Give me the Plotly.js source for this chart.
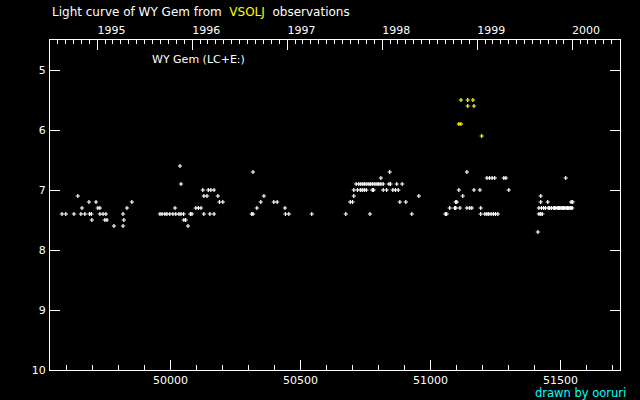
<!DOCTYPE html>
<html><head><meta charset="utf-8">
<script src="https://cdn.plot.ly/plotly-3.0.1.min.js"></script>
<style>html,body{margin:0;padding:0;background:#000;}#chart{width:640px;height:400px;}</style>
</head><body><div id="chart"></div>
<script>
// JD - 2400000 and visual magnitude
const whiteJD = [
 49582,49597,49628,49655,49670,49688,49695,49728,49740,49751,49817,
 49659,49720,49728,49832, 49686,49713,49851, 49643,
 49697,49747,49755,49820, 49782,49817,
 49959,49967,49978,49986,49997,50009,50020,50032,50040,50050,50076,50082,50128,50151,50167,
 50036, 50040, 50124,50145,50155,50167, 50128,50140,50182, 50188,50201,
 50017,50097,50107,50117, 50051,50058, 50067,
 50317, 50359, 50347,50397,50410, 50332,50440, 50312,50317,50442,50455,50543,
 50674,50767,50928,51057,51062, 50691,50700,50882,50905, 50705,50955,
 50705,50719,50730,50737,50745,50753,50776,50781,50818,50831,50855,50865,50876,
 50714,50724,50732,50740,50747,50755,50763,50770,50778,50786,50794,50801,50809,50818,50840,50846,50870,50891,
 50809, 50843,
 51140, 51217,51227,51237,51247,51282,51290, 51109,51167,51190,51301, 51124,51424,
 51097,51101,51424,51451,51541,51547,
 51074,51093,51097,51113,51140,51151,51159,51193,51417,51427,51435,51442,51453,51458,51465,51473,
 51477,51482,51487,51492,51497,51502,51507,51512,51517,51522,51527,51532,51537,51541,51545,
 51193,51209,51217,51224,51233,51242,51250,51259,51417,51424,51430,
 51413, 51520
];
const whiteMag = [
 7.4,7.4,7.4,7.4,7.4,7.4,7.4,7.4,7.4,7.4,7.4,
 7.3,7.3,7.3,7.3, 7.2,7.2,7.2, 7.1,
 7.5,7.5,7.5,7.5, 7.6,7.6,
 7.4,7.4,7.4,7.4,7.4,7.4,7.4,7.4,7.4,7.4,7.4,7.4,7.4,7.4,7.4,
 6.6, 6.9, 7.0,7.0,7.0,7.0, 7.1,7.1,7.1, 7.2,7.2,
 7.3,7.3,7.3,7.3, 7.5,7.5, 7.6,
 6.7, 7.1, 7.2,7.2,7.2, 7.3,7.3, 7.4,7.4,7.4,7.4,7.4,
 7.4,7.4,7.4,7.4,7.4, 7.2,7.2,7.2,7.2, 7.1,7.1,
 7.0,7.0,7.0,7.0,7.0,7.0,7.0,7.0,7.0,7.0,7.0,7.0,7.0,
 6.9,6.9,6.9,6.9,6.9,6.9,6.9,6.9,6.9,6.9,6.9,6.9,6.9,6.9,6.9,6.9,6.9,6.9,
 6.8, 6.7,
 6.7, 6.8,6.8,6.8,6.8,6.8,6.8, 7.0,7.0,7.0,7.0, 7.1,7.1,
 7.2,7.2,7.2,7.2,7.2,7.2,
 7.3,7.3,7.3,7.3,7.3,7.3,7.3,7.3,7.3,7.3,7.3,7.3,7.3,7.3,7.3,7.3,
 7.3,7.3,7.3,7.3,7.3,7.3,7.3,7.3,7.3,7.3,7.3,7.3,7.3,7.3,7.3,
 7.4,7.4,7.4,7.4,7.4,7.4,7.4,7.4,7.4,7.4,7.4,
 7.7, 6.8
];
const yellowJD  = [51117,51143,51163, 51143,51167, 51109,51117, 51197];
const yellowMag = [5.5,5.5,5.5, 5.6,5.6, 5.9,5.9, 6.1];

const xTicks = [50000,50500,51000,51500];
const yTicks = [5,6,7,8,9,10];
const xRange = [49536, 51729];
const yRange = [10, 4.5];

function jdToDate(jd){
  const ms = (jd + 2400000 - 2440587.5) * 86400000;
  return new Date(ms).toISOString().replace('T',' ').replace('Z','');
}

const FONT = 'DejaVu Sans';
const mk = c => ({symbol:'cross-thin', size:3, color:c, line:{color:c, width:1.2}});

const traces = [
  {x: whiteJD, y: whiteMag, type:'scatter', mode:'markers', marker: mk('#ffffff'), hoverinfo:'skip', showlegend:false},
  {x: yellowJD, y: yellowMag, type:'scatter', mode:'markers', marker: mk('#ffff00'), hoverinfo:'skip', showlegend:false},
  {x: [jdToDate(xRange[0]), jdToDate(xRange[1])], y:[null,null], xaxis:'x2', yaxis:'y', type:'scatter', mode:'markers', hoverinfo:'skip', showlegend:false}
];

const tf = {family: FONT, size: 11, color: '#ffffff'};
const layout = {
  width: 640, height: 400,
  paper_bgcolor: '#000000', plot_bgcolor: '#000000',
  margin: {l: 50, r: 20, t: 40, b: 30},
  showlegend: false,
  xaxis: {
    range: xRange, tickmode:'array', tickvals: xTicks, ticktext: xTicks.map(String),
    ticks:'inside', ticklen:10, tickwidth:1, tickcolor:'#ffffff',
    minor: {tickmode:'linear', tick0:0, dtick:100, ticks:'inside', ticklen:5, tickcolor:'#ffffff', tickwidth:1, showgrid:false},
    showline:true, linecolor:'#ffffff', linewidth:1, showgrid:false, zeroline:false,
    tickfont: tf, ticklabelstandoff: 0
  },
  xaxis2: {
    type:'date', overlaying:'x', side:'top', anchor:'y',
    range: [jdToDate(xRange[0]), jdToDate(xRange[1])],
    tickmode:'linear', tick0:'1995-01-01', dtick:'M12', tickformat:'%Y',
    ticks:'inside', ticklen:10, tickwidth:1, tickcolor:'#ffffff',
    minor: {tickmode:'linear', tick0:'1995-01-01', dtick:'M1', ticks:'inside', ticklen:4, tickcolor:'#ffffff', tickwidth:1, showgrid:false},
    showline:true, linecolor:'#ffffff', linewidth:1, showgrid:false, zeroline:false,
    tickfont: tf, ticklabelshift: 14, ticklabelstandoff: 1
  },
  yaxis: {
    range: yRange, tickmode:'array', tickvals: yTicks, ticktext: yTicks.map(String),
    ticks:'inside', ticklen:10, tickwidth:1, tickcolor:'#ffffff',
    showline:true, mirror:'ticks', linecolor:'#ffffff', linewidth:1, showgrid:false, zeroline:false,
    tickfont: tf, ticklabelstandoff: 1
  },
  annotations: [
    {xref:'paper', yref:'paper', x:0, y:(370-12)/330, xanchor:'left', yanchor:'middle', showarrow:false,
     text:'Light curve of WY Gem from\u00A0\u00A0<span style="color:#ffff00">VSOLJ</span>\u00A0\u00A0observations',
     font:{family:FONT, size:12, color:'#ffffff'}},
    {xref:'paper', yref:'paper', x:(150-50)/570, y:(370-60)/330, xanchor:'left', yanchor:'middle', showarrow:false,
     text:'WY Gem (LC+E:)', font:{family:FONT, size:11, color:'#ffffff'}},
    {xref:'paper', yref:'paper', x:(628-50)/570, y:(370-393)/330, xanchor:'right', yanchor:'middle', showarrow:false,
     text:'drawn by ooruri', font:{family:FONT, size:11.5, color:'#00ffff'}}
  ]
};

Plotly.newPlot('chart', traces, layout, {staticPlot:true, displayModeBar:false});
</script>
</body></html>
